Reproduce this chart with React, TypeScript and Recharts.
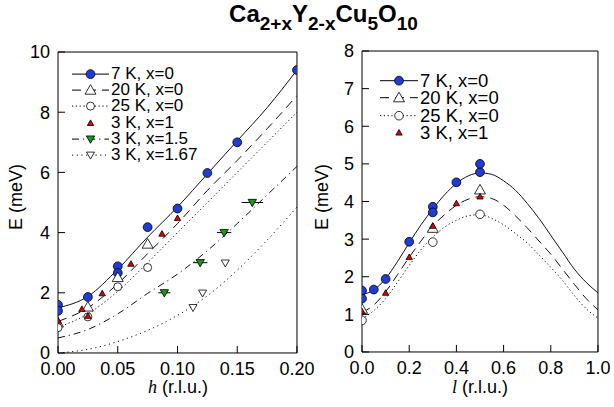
import React from "react";
import { ComposedChart, Line, Scatter, XAxis, YAxis, ErrorBar, Legend } from "recharts";

const FONT = "'Liberation Sans', Arial, Helvetica, sans-serif";
const BLUE = "#1f3cd6";
const RED = "#e00000";
const GREEN = "#169a16";

// ---- left panel: E vs h ----
const H_TICKS = [0, 0.05, 0.1, 0.15, 0.2];
const E_TICKS_L = [0, 2, 4, 6, 8, 10];

const H_FIT = [0, 0.025, 0.05, 0.075, 0.1, 0.125, 0.15, 0.175, 0.2];
const FIT_7K_H = [1.5, 1.88, 2.78, 3.85, 4.85, 5.95, 7.05, 8.15, 9.4];
const FIT_20K_H = [1.05, 1.5, 2.3, 3.3, 4.3, 5.4, 6.4, 7.45, 8.55];
const FIT_25K_H = [0.85, 1.3, 2.05, 3.0, 4.0, 5.0, 6.0, 7.0, 8.0];
const FIT_X15_H = [0.5, 0.78, 1.3, 1.98, 2.62, 3.4, 4.3, 5.25, 6.2];
const FIT_X167_H = [0, 0.12, 0.38, 0.75, 1.25, 1.9, 2.75, 3.75, 4.85];

const P7K_H = [0, 0, 0.025, 0.05, 0.05, 0.075, 0.1, 0.125, 0.15, 0.2];
const P7K_HE = [1.6, 1.4, 1.86, 2.88, 2.66, 4.18, 4.8, 5.98, 7.0, 9.4];
const P20K_H = [0, 0.025, 0.05, 0.075];
const P20K_HE = [1.0, 1.53, 2.51, 3.62];
const P25K_H = [0, 0.025, 0.05, 0.075];
const P25K_HE = [0.84, 1.2, 2.2, 2.84];
const PX1_H = [0, 0.02, 0.025, 0.037, 0.061, 0.087, 0.1];
const PX1_HE = [1.07, 1.46, 1.23, 1.98, 2.96, 3.96, 4.48];
const PX15_H = [0.089, 0.119, 0.139, 0.1626];
const PX15_HE = [2.0, 3.0, 4.0, 5.0];
const PX15_ERR = [0.005, 0.006, 0.006, 0.009];
const PX167_H = [0.113, 0.121, 0.14];
const PX167_HE = [1.51, 1.99, 2.99];

// ---- right panel: E vs l ----
const L_TICKS = [0, 0.2, 0.4, 0.6, 0.8, 1.0];
const E_TICKS_R = [0, 1, 2, 3, 4, 5, 6, 7, 8];

const L_FIT = [0, 0.05, 0.1, 0.15, 0.2, 0.25, 0.3, 0.35, 0.4, 0.45, 0.5, 0.55, 0.6, 0.65, 0.7, 0.75, 0.8, 0.85, 0.9, 0.95, 1.0];
const FIT_7K_L = [1.52, 1.65, 1.95, 2.4, 2.9, 3.38, 3.8, 4.18, 4.48, 4.68, 4.76, 4.72, 4.55, 4.3, 3.95, 3.55, 3.1, 2.65, 2.2, 1.85, 1.57];
const FIT_20K_L = [1.05, 1.25, 1.6, 2.05, 2.52, 2.95, 3.35, 3.65, 3.9, 4.06, 4.13, 4.08, 3.9, 3.62, 3.3, 2.95, 2.6, 2.2, 1.8, 1.42, 1.12];
const FIT_25K_L = [0.88, 1.1, 1.42, 1.85, 2.3, 2.72, 3.05, 3.32, 3.5, 3.62, 3.65, 3.55, 3.38, 3.15, 2.9, 2.58, 2.25, 1.9, 1.5, 1.15, 0.9];

const P7K_L = [0, 0, 0.05, 0.1, 0.2, 0.3, 0.3, 0.4, 0.5, 0.5];
const P7K_LE = [1.63, 1.42, 1.66, 1.94, 2.93, 3.86, 3.71, 4.51, 4.78, 5.0];
const P20K_L = [0, 0.3, 0.5];
const P20K_LE = [1.14, 3.29, 4.31];
const P25K_L = [0, 0.3, 0.5];
const P25K_LE = [0.84, 2.92, 3.66];
const PX1_L = [0, 0.1, 0.2, 0.3, 0.4, 0.5];
const PX1_LE = [1.08, 1.57, 2.52, 3.35, 3.95, 4.13];

const pts = (xs: number[], ys: number[], err?: number[]) =>
  xs.map((x, i) => ({ x, E: ys[i], err: err ? err[i] : 0 }));

const range = (a: number, b: number, step: number) => {
  const out: number[] = [];
  for (let v = a; v <= b + step / 2; v += step) out.push(+v.toFixed(4));
  return out;
};

type Kind = "circle" | "up" | "down" | "none";

function marker(kind: Kind, cx: number, cy: number, s: number, fill: string, key?: string) {
  const common = { fill, stroke: "#000", strokeWidth: 0.8 };
  if (kind === "circle") return <circle key={key} cx={cx} cy={cy} r={s} {...common} />;
  if (kind === "up")
    return <path key={key} d={`M${cx},${cy - s} L${cx + s},${cy + s * 0.75} L${cx - s},${cy + s * 0.75}Z`} {...common} />;
  if (kind === "down")
    return <path key={key} d={`M${cx},${cy + s} L${cx + s},${cy - s * 0.75} L${cx - s},${cy - s * 0.75}Z`} {...common} />;
  return null;
}

const shape = (kind: Kind, s: number, fill: string) => (p: any) => marker(kind, p.cx, p.cy, s, fill);

const DASH = {
  solid: undefined,
  long: "9 6",
  dot: "1.2 2.6",
  dashdot: "7 4 1.2 4",
  dot2: "1.2 3.5",
};

interface LegendItem {
  label: string;
  kind: Kind;
  size: number;
  fill: string;
  dash?: string;
  line: boolean;
}

const LEFT_LEGEND: LegendItem[] = [
  { label: "7 K, x=0", kind: "circle", size: 4.4, fill: BLUE, line: true },
  { label: "20 K, x=0", kind: "up", size: 5.5, fill: "#fff", dash: DASH.long, line: true },
  { label: "25 K, x=0", kind: "circle", size: 4, fill: "#fff", dash: DASH.dot, line: true },
  { label: "3 K, x=1", kind: "up", size: 3.2, fill: RED, line: false },
  { label: "3 K, x=1.5", kind: "down", size: 4.2, fill: GREEN, dash: DASH.dashdot, line: true },
  { label: "3 K, x=1.67", kind: "down", size: 4, fill: "#fff", dash: DASH.dot2, line: true },
];

const RIGHT_LEGEND: LegendItem[] = [
  { label: "7 K, x=0", kind: "circle", size: 4.4, fill: BLUE, line: true },
  { label: "20 K, x=0", kind: "up", size: 5.5, fill: "#fff", dash: DASH.long, line: true },
  { label: "25 K, x=0", kind: "circle", size: 4.3, fill: "#fff", dash: DASH.dot, line: true },
  { label: "3 K, x=1", kind: "up", size: 3.2, fill: RED, line: false },
];

function LegendBox({ items, rowH, sampleW, fontSize }: { items: LegendItem[]; rowH: number; sampleW: number; fontSize: number }) {
  return (
    <div style={{ fontFamily: FONT, fontSize, lineHeight: `${rowH}px`, color: "#000" }}>
      {items.map((it) => (
        <div key={it.label} style={{ display: "flex", alignItems: "center", height: rowH, whiteSpace: "nowrap" }}>
          <svg width={sampleW} height={rowH} style={{ display: "block", flex: "none" }}>
            {it.line && (
              <line x1={0} x2={sampleW - 2} y1={rowH / 2} y2={rowH / 2} stroke="#000" strokeWidth={1} strokeDasharray={it.dash} />
            )}
            {marker(it.kind, sampleW / 2 - 1, rowH / 2, it.size, it.fill)}
          </svg>
          <span>{it.label}</span>
        </div>
      ))}
    </div>
  );
}

const tickStyle = { fill: "#000", fontSize: 18, fontFamily: FONT };
const blank = () => "";
const THIN = 0.01; // axes take (almost) no room; the margins hold the labels

// frame + inward ticks on all four sides
function axes(xDomain: number[], xTicks: number[], xMinor: number[], xFmt: (v: number) => string, yDomain: number[], yTicks: number[], yMinor: number[]) {
  const ax = { stroke: "#000", strokeWidth: 1 };
  return [
    <XAxis key="b" xAxisId="b" dataKey="x" type="number" domain={xDomain} ticks={xTicks} interval={0} height={THIN}
      tickSize={-7} tickMargin={16} tickFormatter={xFmt} tick={tickStyle} axisLine={ax} tickLine={ax} allowDataOverflow />,
    <XAxis key="bm" xAxisId="bm" type="number" domain={xDomain} ticks={xMinor} interval={0} height={THIN}
      tickSize={-3.5} tickFormatter={blank} axisLine={false} tickLine={ax} />,
    <XAxis key="t" xAxisId="t" orientation="top" type="number" domain={xDomain} ticks={xTicks} interval={0} height={THIN}
      tickSize={-7} tickFormatter={blank} axisLine={ax} tickLine={ax} />,
    <XAxis key="tm" xAxisId="tm" orientation="top" type="number" domain={xDomain} ticks={xMinor} interval={0} height={THIN}
      tickSize={-3.5} tickFormatter={blank} axisLine={false} tickLine={ax} />,
    <YAxis key="l" yAxisId="l" dataKey="E" type="number" domain={yDomain} ticks={yTicks} interval={0} width={THIN}
      tickSize={-7} tickMargin={15} tick={tickStyle} axisLine={ax} tickLine={ax} allowDataOverflow />,
    <YAxis key="lm" yAxisId="lm" type="number" domain={yDomain} ticks={yMinor} interval={0} width={THIN}
      tickSize={-3.5} tickFormatter={blank} axisLine={false} tickLine={ax} />,
    <YAxis key="r" yAxisId="r" orientation="right" type="number" domain={yDomain} ticks={yTicks} interval={0} width={THIN}
      tickSize={-7} tickFormatter={blank} axisLine={ax} tickLine={ax} />,
    <YAxis key="rm" yAxisId="rm" orientation="right" type="number" domain={yDomain} ticks={yMinor} interval={0} width={THIN}
      tickSize={-3.5} tickFormatter={blank} axisLine={false} tickLine={ax} />,
  ];
}

const fit = (data: any[], dash?: string) => (
  <Line data={data} dataKey="E" xAxisId="b" yAxisId="l" type="monotone" stroke="#111" strokeWidth={1}
    strokeDasharray={dash} dot={false} activeDot={false} isAnimationActive={false} />
);

const AxisTitle = ({ children, style }: { children: React.ReactNode; style: React.CSSProperties }) => (
  <div style={{ position: "absolute", fontFamily: FONT, fontSize: 18, color: "#000", whiteSpace: "nowrap", ...style }}>{children}</div>
);

export default function App() {
  return (
    <div style={{ position: "absolute", left: 0, top: 0, width: 614, height: 407, background: "#fff", overflow: "hidden" }}>
      <div style={{ position: "absolute", left: 0, top: 2, width: 647, textAlign: "center", fontFamily: FONT, fontWeight: "bold", fontSize: 24, lineHeight: "24px" }}>
        Ca<span style={{ fontSize: 19, position: "relative", top: 8 }}>2+x</span>
        Y<span style={{ fontSize: 19, position: "relative", top: 8 }}>2-x</span>
        Cu<span style={{ fontSize: 19, position: "relative", top: 8 }}>5</span>
        O<span style={{ fontSize: 19, position: "relative", top: 8 }}>10</span>
      </div>

      <div style={{ position: "absolute", left: 0, top: 0 }}>
        <ComposedChart width={330} height={407} margin={{ top: 52, right: 33, bottom: 54, left: 58 }}>
          {axes([0, 0.2], H_TICKS, range(0, 0.2, 0.01), (v) => v.toFixed(2), [0, 10], E_TICKS_L, range(0, 10, 0.5))}
          {fit(pts(H_FIT, FIT_7K_H), DASH.solid)}
          {fit(pts(H_FIT, FIT_20K_H), DASH.long)}
          {fit(pts(H_FIT, FIT_25K_H), DASH.dot)}
          {fit(pts(H_FIT, FIT_X15_H), DASH.dashdot)}
          {fit(pts(H_FIT, FIT_X167_H), DASH.dot2)}
          <Scatter data={pts(P7K_H, P7K_HE)} xAxisId="b" yAxisId="l" shape={shape("circle", 4.4, BLUE)} isAnimationActive={false} />
          <Scatter data={pts(P20K_H, P20K_HE)} xAxisId="b" yAxisId="l" shape={shape("up", 5.5, "#fff")} isAnimationActive={false} />
          <Scatter data={pts(P25K_H, P25K_HE)} xAxisId="b" yAxisId="l" shape={shape("circle", 4, "#fff")} isAnimationActive={false} />
          <Scatter data={pts(PX1_H, PX1_HE)} xAxisId="b" yAxisId="l" shape={shape("up", 3.2, RED)} isAnimationActive={false} />
          <Scatter data={pts(PX15_H, PX15_HE, PX15_ERR)} xAxisId="b" yAxisId="l" shape={shape("down", 4.2, GREEN)} isAnimationActive={false}>
            <ErrorBar dataKey="err" direction="x" width={0} stroke="#000" strokeWidth={1} isAnimationActive={false} />
          </Scatter>
          <Scatter data={pts(PX167_H, PX167_HE)} xAxisId="b" yAxisId="l" shape={shape("down", 4, "#fff")} isAnimationActive={false} />
          <Legend layout="vertical" align="center" verticalAlign="middle"
            wrapperStyle={{ left: 72, top: 66, width: "auto", height: "auto" }}
            content={() => <LegendBox items={LEFT_LEGEND} rowH={16.2} sampleW={39} fontSize={17} />} />
        </ComposedChart>
      </div>

      <div style={{ position: "absolute", left: 310, top: 0 }}>
        <ComposedChart width={304} height={407} margin={{ top: 51, right: 16, bottom: 55, left: 52 }}>
          {axes([0, 1], L_TICKS, range(0, 1, 0.05), (v) => v.toFixed(1), [0, 8], E_TICKS_R, range(0, 8, 0.2))}
          {fit(pts(L_FIT, FIT_7K_L), DASH.solid)}
          {fit(pts(L_FIT, FIT_20K_L), DASH.long)}
          {fit(pts(L_FIT, FIT_25K_L), DASH.dot)}
          <Scatter data={pts(P7K_L, P7K_LE)} xAxisId="b" yAxisId="l" shape={shape("circle", 4.4, BLUE)} isAnimationActive={false} />
          <Scatter data={pts(P20K_L, P20K_LE)} xAxisId="b" yAxisId="l" shape={shape("up", 5.5, "#fff")} isAnimationActive={false} />
          <Scatter data={pts(P25K_L, P25K_LE)} xAxisId="b" yAxisId="l" shape={shape("circle", 4.3, "#fff")} isAnimationActive={false} />
          <Scatter data={pts(PX1_L, PX1_LE)} xAxisId="b" yAxisId="l" shape={shape("up", 3.2, RED)} isAnimationActive={false} />
          <Legend layout="vertical" align="center" verticalAlign="middle"
            wrapperStyle={{ left: 70, top: 72, width: "auto", height: "auto" }}
            content={() => <LegendBox items={RIGHT_LEGEND} rowH={17.4} sampleW={40} fontSize={18.5} />} />
        </ComposedChart>
      </div>

      <AxisTitle style={{ left: 178, top: 377, transform: "translateX(-50%)" }}>
        <span style={{ fontFamily: "'Liberation Serif', 'Times New Roman', serif", fontStyle: "italic" }}>h</span> (r.l.u.)
      </AxisTitle>
      <AxisTitle style={{ left: 480, top: 377, transform: "translateX(-50%)" }}>
        <span style={{ fontFamily: "'Liberation Serif', 'Times New Roman', serif", fontStyle: "italic" }}>l</span> (r.l.u.)
      </AxisTitle>
      <AxisTitle style={{ left: 16, top: 197, transform: "translate(-50%, -50%) rotate(-90deg)" }}>E (meV)</AxisTitle>
      <AxisTitle style={{ left: 322, top: 197, transform: "translate(-50%, -50%) rotate(-90deg)" }}>E (meV)</AxisTitle>
    </div>
  );
}
